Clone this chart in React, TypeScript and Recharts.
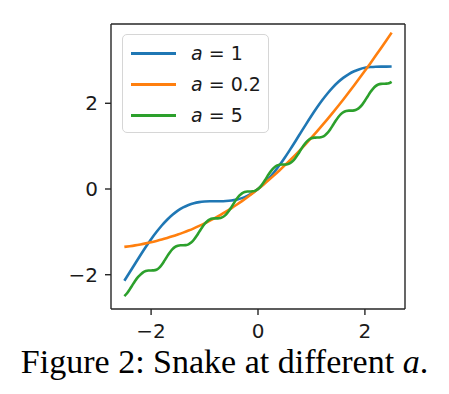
import { LineChart, Line, XAxis, YAxis } from 'recharts';

// x grid for the smooth curves (a = 1 and a = 0.2)
const xCoarse = [
  -2.5, -2.4, -2.3, -2.2, -2.1, -2.0, -1.9, -1.8, -1.7, -1.6, -1.5, -1.4, -1.3,
  -1.2, -1.1, -1.0, -0.9, -0.8, -0.7, -0.6, -0.5, -0.4, -0.3, -0.2, -0.1, 0,
  0.1, 0.2, 0.3, 0.4, 0.5, 0.6, 0.7, 0.8, 0.9, 1.0, 1.1, 1.2, 1.3, 1.4, 1.5,
  1.6, 1.7, 1.8, 1.9, 2.0, 2.1, 2.2, 2.3, 2.4, 2.5,
];

const snakeA1 = [
  -2.142, -1.944, -1.744, -1.546, -1.355, -1.173, -1.005, -0.852, -0.717,
  -0.601, -0.505, -0.429, -0.372, -0.331, -0.306, -0.292, -0.286, -0.285,
  -0.285, -0.281, -0.27, -0.248, -0.213, -0.161, -0.09, 0, 0.11, 0.24, 0.387,
  0.552, 0.73, 0.919, 1.115, 1.315, 1.514, 1.708, 1.894, 2.069, 2.229, 2.371,
  2.495, 2.599, 2.683, 2.748, 2.796, 2.827, 2.845, 2.854, 2.856, 2.856, 2.858,
];

const snakeA02 = [
  -1.351, -1.334, -1.315, -1.293, -1.269, -1.242, -1.212, -1.18, -1.144,
  -1.105, -1.063, -1.018, -0.97, -0.918, -0.862, -0.803, -0.74, -0.673,
  -0.603, -0.528, -0.45, -0.368, -0.282, -0.192, -0.098, 0, 0.102, 0.208,
  0.318, 0.432, 0.55, 0.672, 0.797, 0.927, 1.06, 1.197, 1.338, 1.483, 1.63,
  1.782, 1.937, 2.095, 2.256, 2.42, 2.588, 2.758, 2.931, 3.107, 3.285, 3.466,
  3.649,
];

// finer x grid for the wiggly a = 5 curve
const xFine = [
  -2.5, -2.45, -2.4, -2.35, -2.3, -2.25, -2.2, -2.15, -2.1, -2.05, -2.0, -1.95,
  -1.9, -1.85, -1.8, -1.75, -1.7, -1.65, -1.6, -1.55, -1.5, -1.45, -1.4, -1.35,
  -1.3, -1.25, -1.2, -1.15, -1.1, -1.05, -1.0, -0.95, -0.9, -0.85, -0.8, -0.75,
  -0.7, -0.65, -0.6, -0.55, -0.5, -0.45, -0.4, -0.35, -0.3, -0.25, -0.2, -0.15,
  -0.1, -0.05, 0, 0.05, 0.1, 0.15, 0.2, 0.25, 0.3, 0.35, 0.4, 0.45, 0.5, 0.55,
  0.6, 0.65, 0.7, 0.75, 0.8, 0.85, 0.9, 0.95, 1.0, 1.05, 1.1, 1.15, 1.2, 1.25,
  1.3, 1.35, 1.4, 1.45, 1.5, 1.55, 1.6, 1.65, 1.7, 1.75, 1.8, 1.85, 1.9, 1.95,
  2.0, 2.05, 2.1, 2.15, 2.2, 2.25, 2.3, 2.35, 2.4, 2.45, 2.5,
];

const snakeA5 = [
  -2.499, -2.431, -2.342, -2.244, -2.147, -2.063, -2.0, -1.944, -1.914, -1.902,
  -1.9, -1.899, -1.884, -1.84, -1.766, -1.672, -1.572, -1.48, -1.404, -1.352,
  -1.324, -1.314, -1.314, -1.31, -1.291, -1.25, -1.184, -1.098, -1.0, -0.902,
  -0.816, -0.75, -0.709, -0.69, -0.685, -0.685, -0.675, -0.648, -0.596, -0.521,
  -0.428, -0.329, -0.235, -0.156, -0.101, -0.07, -0.058, -0.057, -0.054,
  -0.038, 0, 0.062, 0.146, 0.243, 0.342, 0.43, 0.499, 0.544, 0.565, 0.571,
  0.572, 0.579, 0.604, 0.652, 0.725, 0.815, 0.915, 1.01, 1.091, 1.15, 1.184,
  1.198, 1.2, 1.202, 1.216, 1.25, 1.309, 1.391, 1.486, 1.586, 1.676, 1.748,
  1.796, 1.82, 1.828, 1.828, 1.834, 1.856, 1.901, 1.97, 2.059, 2.158, 2.255,
  2.338, 2.4, 2.437, 2.453, 2.456, 2.458, 2.469, 2.501,
];

const xTicks = [-2, 0, 2];
const yTicks = [-2, 0, 2];
const seriesLabels = ['1', '0.2', '5'];
const seriesColors = ['#1f77b4', '#ff7f0e', '#2ca02c'];
const caption = 'Figure 2: Snake at different ';

const coarseRows = xCoarse.map((x, i) => ({ x, a1: snakeA1[i], a02: snakeA02[i] }));
const fineRows = xFine.map((x, i) => ({ x, a5: snakeA5[i] }));

const fmt = (v: number) => (v < 0 ? `\u2212${Math.abs(v)}` : `${v}`);

const FRAME = '#262626';
const tickFont = { fill: '#1a1a1a', fontSize: 20, fontFamily: 'DejaVu Sans' };

export default function App() {
  return (
    <div style={{ position: 'absolute', left: 0, top: 0, width: 449, height: 394, background: '#fff' }}>
      <LineChart width={449} height={350} margin={{ top: 23, right: 43, bottom: 0, left: 0 }}>
        <XAxis
          dataKey="x"
          type="number"
          domain={[-2.75, 2.75]}
          ticks={xTicks}
          tickFormatter={fmt}
          allowDataOverflow
          height={41}
          tick={tickFont}
          tickSize={6}
          tickMargin={9}
          stroke={FRAME}
          strokeWidth={1.4}
        />
        <XAxis xAxisId="top" orientation="top" type="number" domain={[-2.75, 2.75]} height={1} tick={false} tickLine={false} stroke={FRAME} strokeWidth={1.4} />
        <YAxis
          type="number"
          domain={[-2.8, 3.85]}
          ticks={yTicks}
          tickFormatter={fmt}
          allowDataOverflow
          width={111}
          tick={tickFont}
          tickSize={6}
          tickMargin={7}
          stroke={FRAME}
          strokeWidth={1.4}
        />
        <YAxis yAxisId="right" orientation="right" type="number" domain={[-2.8, 3.85]} width={1} tick={false} tickLine={false} stroke={FRAME} strokeWidth={1.4} />
        <Line data={coarseRows} dataKey="a1" type="monotone" stroke={seriesColors[0]} strokeWidth={2.6} dot={false} isAnimationActive={false} />
        <Line data={coarseRows} dataKey="a02" type="monotone" stroke={seriesColors[1]} strokeWidth={2.6} dot={false} isAnimationActive={false} />
        <Line data={fineRows} dataKey="a5" type="monotone" stroke={seriesColors[2]} strokeWidth={2.6} dot={false} isAnimationActive={false} />
      </LineChart>

      {/* legend */}
      <div
        style={{
          position: 'absolute',
          left: 122,
          top: 34,
          width: 145,
          height: 97,
          border: '1px solid #d6d6d6',
          borderRadius: 5,
          background: 'rgba(255,255,255,0.8)',
          fontFamily: 'DejaVu Sans',
          fontSize: 19,
          color: '#1a1a1a',
        }}
      >
        {seriesLabels.map((lab, i) => (
          <div key={lab} style={{ position: 'absolute', left: 0, top: 4 + i * 31, height: 28, display: 'flex', alignItems: 'center' }}>
            <div style={{ width: 45, height: 3, background: seriesColors[i], marginLeft: 8 }} />
            <span style={{ marginLeft: 15, whiteSpace: 'nowrap' }}>
              <i>a</i> = {lab}
            </span>
          </div>
        ))}
      </div>

      <div
        style={{
          position: 'absolute',
          left: 0,
          top: 345,
          width: 449,
          textAlign: 'center',
          fontFamily: '"Liberation Serif", serif',
          fontSize: 34,
          lineHeight: '34px',
          color: '#000',
          whiteSpace: 'nowrap',
        }}
      >
        {caption}
        <i>a</i>.
      </div>
    </div>
  );
}
